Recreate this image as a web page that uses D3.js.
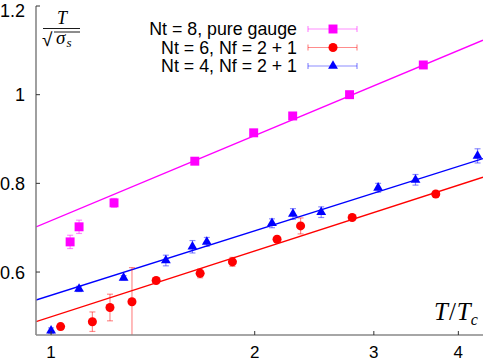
<!DOCTYPE html>
<html>
<head>
<meta charset="utf-8">
<script src="https://cdn.jsdelivr.net/npm/d3@7"></script>
<style>
  body { margin: 0; background: #fff; }
  text { font-family: "Liberation Sans", Arial, sans-serif; }
  .math { font-family: "Liberation Serif", "DejaVu Serif", serif; font-style: italic; }
</style>
</head>
<body>
<svg id="chart" width="491" height="361"></svg>
<script>
// series: pure gauge Nt=8
var gaugeX = [1.067, 1.100, 1.239, 1.631, 1.993, 2.276, 2.762, 3.55];
var gaugeY = [0.668, 0.702, 0.756, 0.850, 0.914, 0.952, 1.000, 1.067];
var gaugeErr = [0.015, 0.015, 0.010, 0.005, 0.005, 0.005, 0.005, 0.005];

// Nt=6, Nf=2+1
var nt6X = [1.033, 1.151, 1.222, 1.317, 1.430, 1.661, 1.854, 2.158, 2.338, 2.787, 3.704];
var nt6Y = [0.477, 0.488, 0.520, 0.533, 0.581, 0.597, 0.623, 0.674, 0.704, 0.723, 0.776];
var nt6Err = [0.007, 0.022, 0.030, 0.077, 0.006, 0.010, 0.010, 0.006, 0.018, 0.005, 0.005];

// Nt=4, Nf=2+1
var nt4X = [1.000, 1.100, 1.280, 1.478, 1.618, 1.699, 2.121, 2.278, 2.508, 3.044, 3.457, 4.27];
var nt4Y = [0.468, 0.562, 0.587, 0.626, 0.657, 0.668, 0.710, 0.731, 0.735, 0.790, 0.808, 0.862];
var nt4Err = [0.006, 0.006, 0.005, 0.012, 0.014, 0.010, 0.010, 0.012, 0.012, 0.010, 0.012, 0.016];

// fits  y = a + b*log10(x)
var fitA = [0.716, 0.499, 0.5477];
var fitB = [0.637, 0.493, 0.4825];

var labels = ["Nt = 8, pure gauge", "Nt = 6, Nf = 2 + 1", "Nt = 4, Nf = 2 + 1"];
var colors = ["#ff00ff", "#ff0000", "#0000ff"];
var symbols = [d3.symbolSquare, d3.symbolCircle, d3.symbolTriangle];
var symSize = [80, 64, 42];

var xTicks = [1, 2, 3, 4];
var yTicks = [0.6, 0.8, 1, 1.2];

var x0 = 36, x1 = 483, y0 = 335, y1 = 6;
var xDomain = [0.95, 4.35], yDomain = [0.458, 1.2];

var x = d3.scaleLog().domain(xDomain).range([x0, x1]);
var y = d3.scaleLinear().domain(yDomain).range([y0, y1]);

var svg = d3.select("#chart");

svg.append("clipPath").attr("id", "clip")
  .append("rect").attr("x", x0).attr("y", y1).attr("width", x1 - x0).attr("height", y0 - y1);

var series = [
  { xs: gaugeX, ys: gaugeY, es: gaugeErr },
  { xs: nt6X, ys: nt6Y, es: nt6Err },
  { xs: nt4X, ys: nt4Y, es: nt4Err }
];

var plot = svg.append("g").attr("clip-path", "url(#clip)");

// fit lines
var line = d3.line().x(function(d) { return x(d[0]); }).y(function(d) { return y(d[1]); });
series.forEach(function(s, i) {
  var pts = xDomain.map(function(v) { return [v, fitA[i] + fitB[i] * Math.log10(v)]; });
  plot.append("path").datum(pts)
    .attr("d", line)
    .attr("fill", "none")
    .attr("stroke", colors[i])
    .attr("stroke-width", 1.4);
});

// error bars + markers
series.forEach(function(s, i) {
  var data = s.xs.map(function(v, k) { return { x: v, y: s.ys[k], e: s.es[k] }; });
  var g = plot.append("g");
  var eb = g.selectAll(".eb").data(data).enter().append("g")
    .attr("stroke", colors[i]).attr("stroke-opacity", 0.45).attr("stroke-width", 1.2);
  eb.append("line")
    .attr("x1", function(d) { return x(d.x); }).attr("x2", function(d) { return x(d.x); })
    .attr("y1", function(d) { return y(d.y - d.e); }).attr("y2", function(d) { return y(d.y + d.e); });
  [-1, 1].forEach(function(sg) {
    eb.append("line")
      .attr("x1", function(d) { return x(d.x) - 3; }).attr("x2", function(d) { return x(d.x) + 3; })
      .attr("y1", function(d) { return y(d.y + sg * d.e); }).attr("y2", function(d) { return y(d.y + sg * d.e); });
  });
  g.selectAll(".pt").data(data).enter().append("path")
    .attr("transform", function(d) { return "translate(" + x(d.x) + "," + y(d.y) + ")"; })
    .attr("d", d3.symbol().type(symbols[i]).size(symSize[i]))
    .attr("fill", colors[i]);
});

// axes
var axisColor = "#888";
svg.append("line").attr("x1", x0).attr("x2", x0).attr("y1", y1).attr("y2", y0)
  .attr("stroke", axisColor).attr("stroke-width", 1.6);
svg.append("line").attr("x1", x0).attr("x2", x1).attr("y1", y0).attr("y2", y0)
  .attr("stroke", axisColor).attr("stroke-width", 1.6);

svg.selectAll(".yt").data(yTicks).enter().append("line")
  .attr("x1", x0).attr("x2", x0 + 4)
  .attr("y1", function(d) { return y(d); }).attr("y2", function(d) { return y(d); })
  .attr("stroke", "#333").attr("stroke-width", 1);
svg.selectAll(".yl").data(yTicks).enter().append("text")
  .attr("x", 25).attr("y", function(d) { return Math.max(y(d) + 6.5, 16.5); })
  .attr("text-anchor", "end").attr("font-size", 18)
  .text(function(d) { return d3.format("")(d); });

svg.selectAll(".xt").data(xTicks).enter().append("line")
  .attr("x1", function(d) { return x(d); }).attr("x2", function(d) { return x(d); })
  .attr("y1", y0).attr("y2", y0 - 4)
  .attr("stroke", "#333").attr("stroke-width", 1);
svg.selectAll(".xl").data(xTicks).enter().append("text")
  .attr("x", function(d) { return x(d); }).attr("y", 357.5)
  .attr("text-anchor", "middle").attr("font-size", 17)
  .text(function(d) { return d; });

// axis titles
var yl = svg.append("g");
yl.append("text").attr("class", "math").attr("x", 62).attr("y", 24)
  .attr("text-anchor", "middle").attr("font-size", 18).text("T");
yl.append("line").attr("x1", 43).attr("x2", 80).attr("y1", 28.5).attr("y2", 28.5)
  .attr("stroke", "#000").attr("stroke-width", 0.9);
yl.append("text").attr("x", 42).attr("y", 46).attr("font-size", 19)
  .attr("font-family", "DejaVu Serif").text("\u221A");
yl.append("line").attr("x1", 54).attr("x2", 80).attr("y1", 32).attr("y2", 32)
  .attr("stroke", "#000").attr("stroke-width", 0.9);
var sig = yl.append("text").attr("class", "math").attr("x", 56).attr("y", 43.5).attr("font-size", 19);
sig.append("tspan").text("\u03C3");
sig.append("tspan").attr("font-size", 13).attr("dy", 3).attr("dx", 1).text("s");

var xlab = svg.append("text").attr("class", "math").attr("x", 434).attr("y", 320).attr("font-size", 25);
xlab.append("tspan").text("T");
xlab.append("tspan").attr("font-style", "normal").attr("dx", 1).text("/");
xlab.append("tspan").attr("dx", 1).text("T");
xlab.append("tspan").attr("font-size", 16).attr("dy", 5).text("c");

// legend
var legY = [29, 47.5, 66];
var leg = svg.selectAll(".leg").data(labels).enter().append("g")
  .attr("transform", function(d, i) { return "translate(0," + legY[i] + ")"; });
leg.append("text").attr("x", 297).attr("y", 6.3).attr("text-anchor", "end").attr("font-size", 17.8)
  .text(function(d) { return d; });
leg.each(function(d, i) {
  var g = d3.select(this);
  var lg = g.append("g").attr("stroke", colors[i]).attr("stroke-opacity", 0.45).attr("stroke-width", 1.2);
  lg.append("line").attr("x1", 308).attr("x2", 357).attr("y1", 0).attr("y2", 0);
  lg.append("line").attr("x1", 308).attr("x2", 308).attr("y1", -3).attr("y2", 3);
  lg.append("line").attr("x1", 357).attr("x2", 357).attr("y1", -3).attr("y2", 3);
  g.append("path").attr("transform", "translate(333,0)")
    .attr("d", d3.symbol().type(symbols[i]).size(symSize[i]))
    .attr("fill", colors[i]);
});
</script>
</body>
</html>
